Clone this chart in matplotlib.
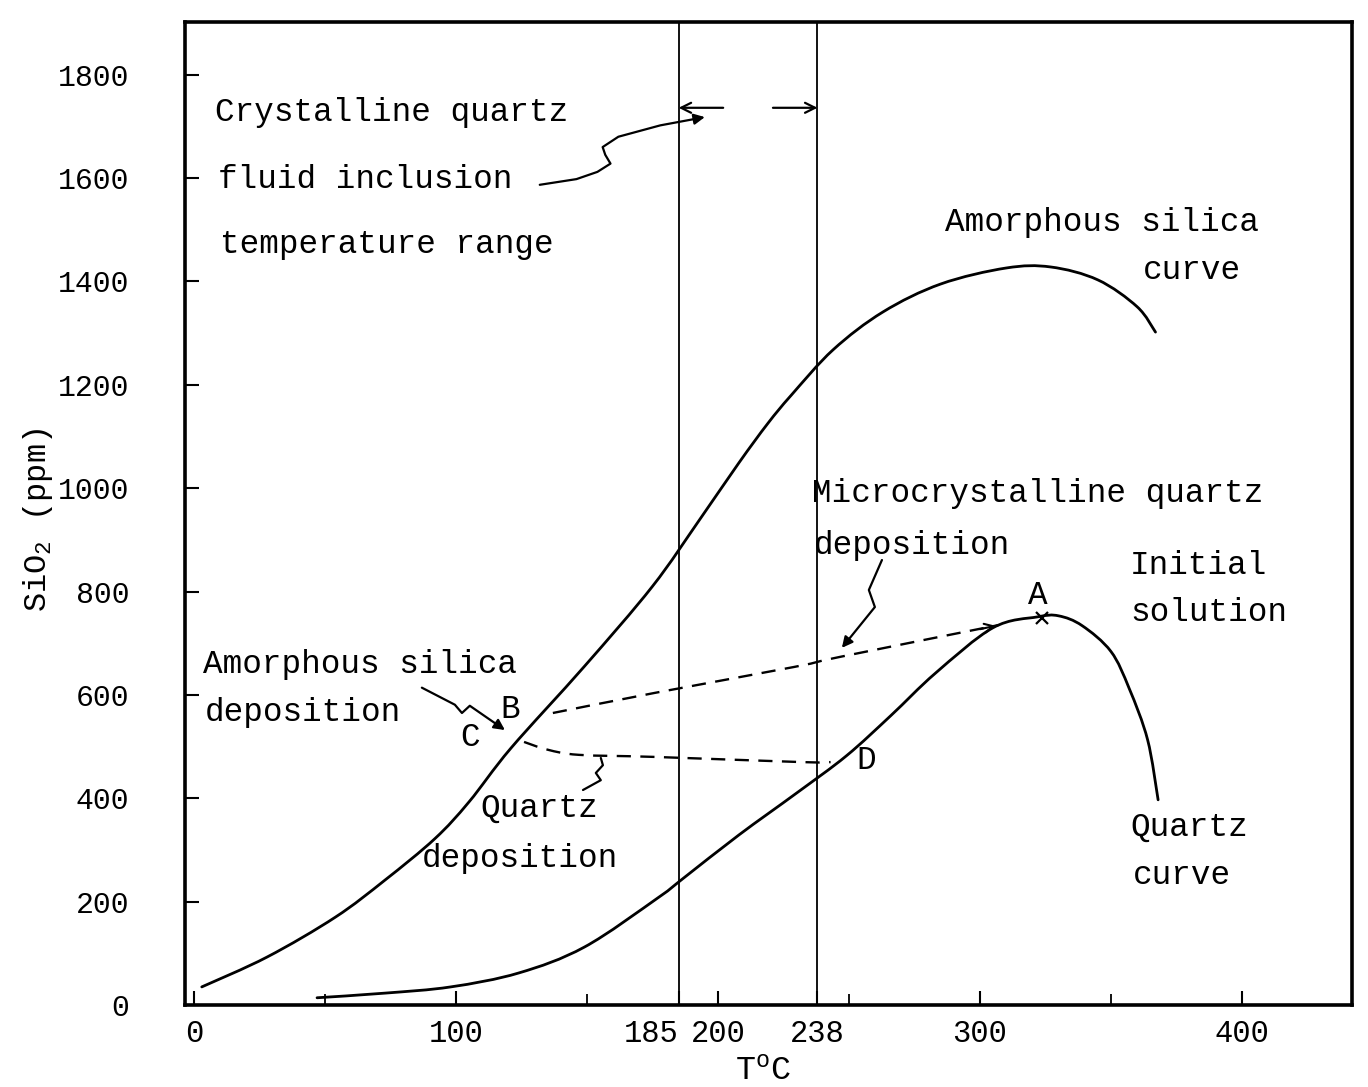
import numpy as np
import matplotlib
matplotlib.use("Agg")
import matplotlib.pyplot as plt
from matplotlib.patches import FancyArrowPatch, PathPatch
from matplotlib.path import Path

plt.rcParams['font.family'] = ['Liberation Mono', 'DejaVu Sans Mono']
plt.rcParams['mathtext.fontset'] = 'custom'
plt.rcParams['mathtext.rm'] = 'Liberation Mono'
plt.rcParams['mathtext.it'] = 'Liberation Mono'

# amorphous silica solubility curve (T in C, SiO2 in ppm)
amorph_t = [3, 28, 54, 73, 92, 105, 121, 149, 175, 193, 208, 219, 228, 244, 263, 285, 310, 327, 345, 360, 367]
amorph_ppm = [35, 93, 170, 242, 322, 393, 497, 655, 810, 939, 1049, 1125, 1180, 1268, 1341, 1395, 1426, 1428, 1403, 1351, 1302]

# quartz solubility curve
quartz_t = [47, 73, 98, 124, 149, 177, 187, 208, 230, 249, 266, 283, 305, 322, 330, 339, 350, 357, 364, 368]
quartz_ppm = [14, 23, 35, 62, 112, 207, 246, 329, 410, 482, 560, 642, 730, 751, 753, 734, 684, 612, 513, 397]

# cooling paths
micro_t = [137, 176, 229, 247, 307]
micro_ppm = [565, 604, 654, 674, 735]
qdep_t = [126, 135, 147, 176, 232, 243]
qdep_ppm = [509, 494, 484, 480, 470, 470]

# fluid inclusion range
fi_range = [185, 238]
point_A = (323.7, 749)

xticks = [0, 100, 185, 200, 238, 300, 400]
xminor = [50, 150, 250, 350]
yticks = list(range(0, 2000, 200))


def smooth(xs, ys):
    # bezier path through every read point (catmull-rom tangents)
    p = np.column_stack([xs, ys]).astype(float)
    verts = [p[0]]
    codes = [Path.MOVETO]
    n = len(p)
    for i in range(n - 1):
        p0 = p[i - 1] if i > 0 else p[i]
        p3 = p[i + 2] if i + 2 < n else p[i + 1]
        c1 = p[i] + (p[i + 1] - p0) / 6
        c2 = p[i + 1] - (p3 - p[i]) / 6
        verts += [c1, c2, p[i + 1]]
        codes += [Path.CURVE4] * 3
    return Path(verts, codes)


fig = plt.figure(figsize=(13.68, 10.87), dpi=100)
ax = fig.add_axes([185/1368, 82/1087, 1167/1368, 983/1087])
ax.set_xlim(-3.4, 442)
ax.set_ylim(0, 1902)

lw = 2.0
ax.add_patch(PathPatch(smooth(amorph_t, amorph_ppm), fill=False, lw=lw, ec='k', capstyle='round'))
ax.add_patch(PathPatch(smooth(quartz_t, quartz_ppm), fill=False, lw=lw, ec='k', capstyle='round'))
ax.add_patch(PathPatch(smooth(micro_t, micro_ppm), fill=False, lw=1.7, ec='k', ls=(0, (6, 4))))
ax.add_patch(PathPatch(smooth(qdep_t, qdep_ppm), fill=False, lw=1.7, ec='k', ls=(0, (6, 4))))
ax.annotate('', xy=(micro_t[-1], micro_ppm[-1]), xytext=(micro_t[-1]-8, micro_ppm[-1]-9),
            arrowprops=dict(arrowstyle='->', lw=1.5, color='k', mutation_scale=16))
ax.plot(*point_A, marker='x', ms=9, mew=1.6, c='k')

for v in fi_range:
    ax.axvline(v, c='k', lw=1.3)

# range arrows
ax.annotate('', xy=(fi_range[0], 1736), xytext=(fi_range[0]+17, 1736),
            arrowprops=dict(arrowstyle='->', lw=1.6, color='k', mutation_scale=18, shrinkA=0, shrinkB=0))
ax.annotate('', xy=(fi_range[1], 1736), xytext=(fi_range[1]-17, 1736),
            arrowprops=dict(arrowstyle='->', lw=1.6, color='k', mutation_scale=18, shrinkA=0, shrinkB=0))


def squiggle(pts, head=True):
    codes = [Path.MOVETO] + [Path.LINETO]*(len(pts)-1)
    p = FancyArrowPatch(path=Path(pts, codes), arrowstyle='-|>' if head else '-',
                        mutation_scale=16, lw=1.6, color='k', joinstyle='round')
    ax.add_patch(p)


squiggle([(132, 1587), (146, 1598), (154, 1612), (159, 1628), (157, 1645), (156, 1660), (162, 1680), (178, 1702), (195, 1718)])
squiggle([(87, 614), (99.6, 581), (102.3, 565), (105.3, 579), (118.7, 532)])
squiggle([(148.5, 416), (155.3, 435), (153.4, 449), (156.1, 464), (155.3, 478)], head=False)
squiggle([(262.6, 861), (257.6, 803), (259.9, 770), (247.3, 691)])

fs = 23.5
txt = [
    (8.0, 1726, "Crystalline quartz"),
    (9.2, 1597, "fluid inclusion"),
    (9.9, 1471, "temperature range"),
    (286.6, 1515, "Amorphous silica"),
    (362.2, 1421, "curve"),
    (235.9, 989, "Microcrystalline quartz"),
    (236.6, 890, "deposition"),
    (357.3, 850, "Initial"),
    (357.3, 759, "solution"),
    (3.4, 658, "Amorphous silica"),
    (4.2, 565, "deposition"),
    (109.2, 381, "Quartz"),
    (87.0, 284, "deposition"),
    (357.3, 343, "Quartz"),
    (358.4, 250, "curve"),
]
for x, y, s in txt:
    ax.text(x, y, s, fontsize=fs, ha='left', va='center')

for x, y, s in [(120.6, 571, "B"), (105.3, 517, "C"), (322, 793, "A"), (256.5, 474, "D")]:
    ax.text(x, y, s, fontsize=fs, ha='center', va='center')

ax.set_xticks(xticks)
ax.set_xticks(xminor, minor=True)
ax.set_yticks(yticks)
ax.tick_params(direction='in', labelsize=22, length=10, width=1.5, pad=10)
ax.tick_params(axis='y', labelsize=21.5, pad=40)
ax.tick_params(which='minor', direction='in', length=8, width=1.3)
for lab, v in zip(ax.get_xticklabels(), xticks):
    if v == 185:
        lab.set_ha('right')

for s in ax.spines.values():
    s.set_linewidth(2.6)

fig.text(38/1368, 1-520/1087, "SiO$_2$ (ppm)", rotation=90, fontsize=23, ha='center', va='center')
fig.text(763/1368, 1-1072/1087, "T$^\\mathrm{o}$C", fontsize=24, ha='center', va='center')

fig.savefig("out.png", dpi=100)
